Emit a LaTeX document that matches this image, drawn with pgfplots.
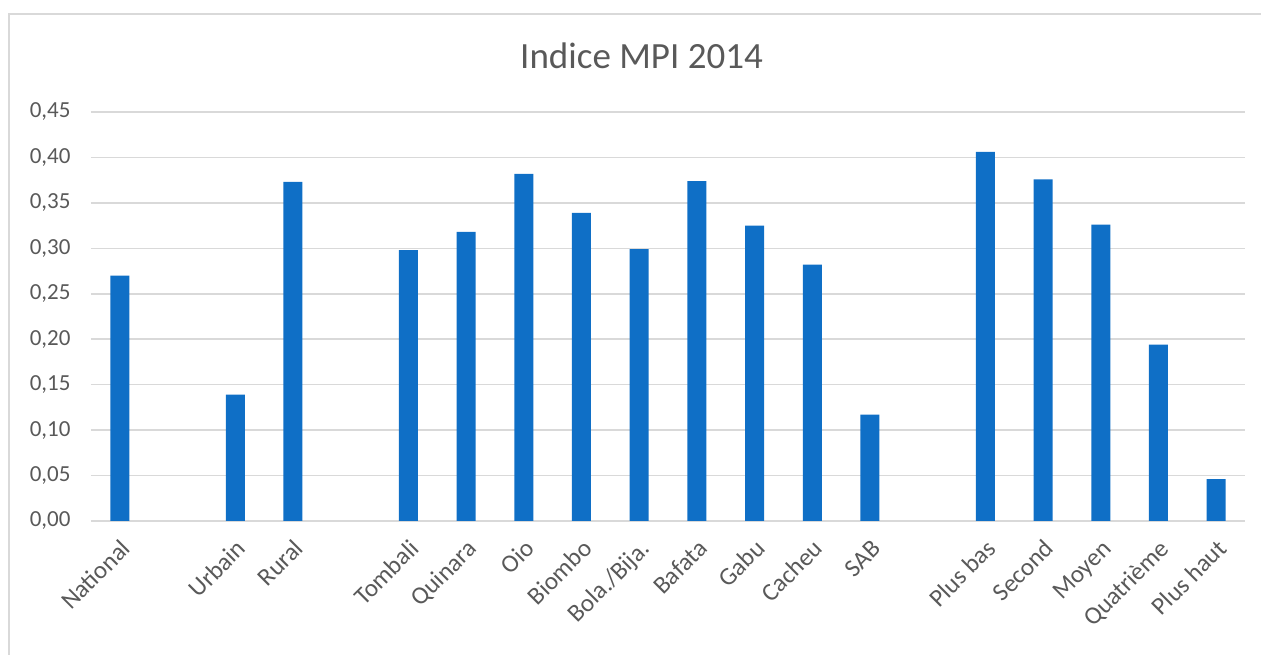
\documentclass[border=0pt]{standalone}
\usepackage{pgfplots}
\pgfplotsset{compat=1.18}
\usepackage{fontspec}
\setmainfont{Carlito}
\definecolor{barblue}{RGB}{15,111,198}
\definecolor{textgrey}{RGB}{89,89,89}
\definecolor{gridgrey}{RGB}{217,217,217}
\begin{document}
\begin{tikzpicture}[x=1pt,y=1pt]
\useasboundingbox (0,0) rectangle (1261,655);
\draw[color=gridgrey, line width=1.2pt] (9,0) -- (9,641) -- (1261,641);
\node[anchor=base, text=textgrey, font=\fontsize{37}{44}\selectfont] at (641.5,586) {Indice MPI 2014};
\begin{axis}[
  at={(91pt,134pt)}, anchor=south west,
  scale only axis, width=1154pt, height=409pt,
  xmin=-0.5, xmax=19.5, ymin=0, ymax=0.45,
  axis x line*=bottom, axis y line*=left,
  x axis line style={gridgrey, line width=1.5pt},
  y axis line style={draw=none},
  ymajorgrids, grid style={gridgrey, line width=1.5pt},
  major tick length=0pt,
  ytick={0,0.05,...,0.46},
  yticklabel style={text=textgrey, font=\fontsize{23}{28}\selectfont, anchor=east, xshift=-17pt,
    /pgf/number format/fixed, /pgf/number format/fixed zerofill, /pgf/number format/precision=2,
    /pgf/number format/use comma, /pgf/number format/assume math mode=true},
  xtick={0,2,3,5,6,7,8,9,10,11,12,13,15,16,17,18,19},
  xticklabels={National,Urbain,Rural,Tombali,Quinara,Oio,Biombo,Bola./Bija.,Bafata,Gabu,Cacheu,SAB,Plus bas,Second,Moyen,Quatrième,Plus haut},
  xticklabel style={text=textgrey, font=\fontsize{25}{30}\selectfont, yshift=-17pt, rotate=45, anchor=north east, inner sep=0pt, text height=17pt, text depth=5pt},
  ybar, bar width=19pt,
]
\addplot[fill=barblue, draw=none, bar shift=0pt] coordinates {
(0,0.270) (2,0.139) (3,0.373) (5,0.298) (6,0.318) (7,0.382) (8,0.339) (9,0.299) (10,0.374) (11,0.325) (12,0.282) (13,0.117) (15,0.406) (16,0.376) (17,0.326) (18,0.194) (19,0.046)
};
\end{axis}
\end{tikzpicture}
\end{document}
